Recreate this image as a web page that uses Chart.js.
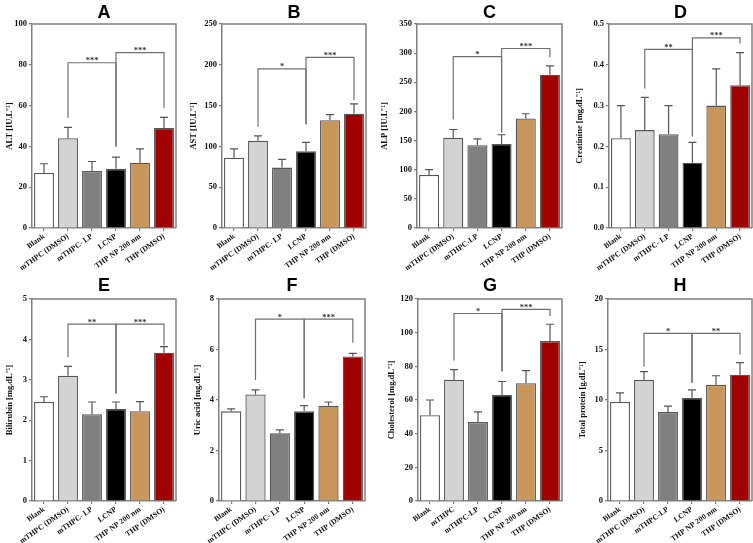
<!DOCTYPE html>
<html><head><meta charset="utf-8">
<script src="https://cdn.jsdelivr.net/npm/chart.js@4.4.0/dist/chart.umd.min.js"></script>
<style>
html,body{margin:0;padding:0;background:#fff;width:753px;height:543px;overflow:hidden;position:relative}
canvas{position:absolute}
</style></head><body>
<script>
// ---- categories ----
const labelsStd = ["Blank","mTHPC (DMSO)","mTHPC- LP","LCNP","THP NP 200 nm","THP (DMSO)"];
const labelsC   = ["Blank","mTHPC (DMSO)","mTHPC-LP","LCNP","THP NP 200 nm","THP (DMSO)"];
const labelsG   = ["Blank","mTHPC","mTHPC-LP","LCNP","THP NP 200 nm","THP (DMSO)"];
const labelsH   = ["Blank","mTHPC (DMSO)","mTHPC-LP","LCNP","THP NP 200 nm","THP (DMSO)"];

// ---- series values (mean, SD) ----
const altMean  = [27, 44, 28, 29, 32, 49];
const altSd    = [4.5, 5.3, 4.6, 5.7, 6.8, 5.2];
const astMean  = [86, 107, 74, 94, 132, 140];
const astSd    = [11, 6, 10, 11, 7, 12];
const alpMean  = [91, 155, 142, 144, 188, 263];
const alpSd    = [9, 14, 11, 16, 8, 15];
const creMean  = [0.22, 0.24, 0.23, 0.16, 0.30, 0.35];
const creSd    = [0.08, 0.08, 0.07, 0.05, 0.09, 0.08];
const bilMean  = [2.45, 3.10, 2.15, 2.28, 2.22, 3.67];
const bilSd    = [0.13, 0.23, 0.30, 0.17, 0.24, 0.15];
const uricMean = [3.55, 4.22, 2.68, 3.55, 3.77, 5.72];
const uricSd   = [0.10, 0.18, 0.14, 0.23, 0.15, 0.13];
const cholMean = [51, 72, 47, 63, 70, 95];
const cholSd   = [9, 6, 6, 8, 7.5, 10];
const tpMean   = [9.8, 12.0, 8.8, 10.2, 11.5, 12.5];
const tpSd     = [0.9, 0.8, 0.6, 0.8, 0.9, 1.2];

// ---- significance brackets: [fromIdx, toIdx, topValue, leftLegEnd, rightLegEnd, label] ----
const altBr  = [[1,3,81,54,40,"***"],[3,5,86,40,59,"***"]];
const astBr  = [[1,3,195,124,127,"*"],[3,5,209,127,157,"***"]];
const alpBr  = [[1,3,294,186,164,"*"],[3,5,308,164,293,"***"]];
const creBr  = [[1,3,0.438,0.342,0.225,"**"],[3,5,0.466,0.225,0.452,"***"]];
const bilBr  = [[1,3,4.38,3.56,2.66,"**"],[3,5,4.38,2.66,3.85,"***"]];
const uricBr = [[1,3,7.2,4.79,4.07,"*"],[3,5,7.2,4.07,6.27,"***"]];
const cholBr = [[1,3,111.4,83.4,77,"*"],[3,5,113.8,77,109.9,"***"]];
const tpBr   = [[1,3,16.6,13.3,11.7,"*"],[3,5,16.6,11.7,14.5,"**"]];

// ---- axis titles and ranges ----
const yTitles = ["ALT [IU.L\u207B\u00B9]","AST [IU.L\u207B\u00B9]","ALP [IU.L\u207B\u00B9]","Creatinine [mg.dL\u207B\u00B9]",
                 "Bilirubin [mg.dL\u207B\u00B9]","Uric acid [mg.dL\u207B\u00B9]","Cholesterol [mg.dL\u207B\u00B9]","Total protein [g.dL\u207B\u00B9]"];
const yMax   = [100, 250, 350, 0.5, 5, 8, 120, 20];
const yStep  = [20, 50, 50, 0.1, 1, 2, 20, 5];
const panelIds = ["A","B","C","D","E","F","G","H"];

const barColors = ['#ffffff','#d3d3d3','#808080','#000000','#c8965a','#a00000'];
const AXIS = '#808080';
const SERIF = "'Liberation Serif','Times New Roman',serif";
const SANS = "'Liberation Sans',Arial,sans-serif";

const panels = [
  {mean:altMean, sd:altSd, br:altBr, labels:labelsStd, row:0, labelX:10,  left:32,  right:176},
  {mean:astMean, sd:astSd, br:astBr, labels:labelsStd, row:0, labelX:194, left:222, right:366},
  {mean:alpMean, sd:alpSd, br:alpBr, labels:labelsC,   row:0, labelX:385, left:417, right:562},
  {mean:creMean, sd:creSd, br:creBr, labels:labelsStd, row:0, labelX:580, left:609, right:752},
  {mean:bilMean, sd:bilSd, br:bilBr, labels:labelsStd, row:1, labelX:10,  left:32,  right:176},
  {mean:uricMean,sd:uricSd,br:uricBr,labels:labelsStd, row:1, labelX:198, left:219, right:365},
  {mean:cholMean,sd:cholSd,br:cholBr,labels:labelsG,   row:1, labelX:392, left:418, right:562},
  {mean:tpMean,  sd:tpSd,  br:tpBr,  labels:labelsH,   row:1, labelX:583, left:608, right:752}
];

const EXTRA = 12; // extra room on the canvas left for rotated labels

panels.forEach((p, k) => {
  const rowTop = p.row === 0 ? 0 : 270;
  const canH = p.row === 0 ? 270 : 273;
  const cl = Math.round(p.labelX - 4.25) - EXTRA;
  const yW = p.left - cl;
  const cw = p.right + 3 - cl;
  const cv = document.createElement('canvas');
  cv.width = cw; cv.height = canH;
  cv.style.left = cl + 'px'; cv.style.top = rowTop + 'px';
  cv.style.width = cw + 'px'; cv.style.height = canH + 'px';
  document.body.appendChild(cv);

  const extras = {
    id: 'extras' + k,
    afterDatasetsDraw(chart) {
      const ctx = chart.ctx, a = chart.chartArea, ys = chart.scales.y, xs = chart.scales.x;
      ctx.save();
      ctx.strokeStyle = AXIS; ctx.lineWidth = 1.5;
      ctx.beginPath(); ctx.moveTo(a.left, a.top); ctx.lineTo(a.right, a.top); ctx.lineTo(a.right, a.bottom); ctx.stroke();
      ctx.strokeStyle = '#555'; ctx.lineWidth = 1.2;
      chart.getDatasetMeta(0).data.forEach((bar, i) => {
        const yt = ys.getPixelForValue(p.mean[i]);
        const ye = ys.getPixelForValue(p.mean[i] + p.sd[i]);
        ctx.beginPath();
        ctx.moveTo(bar.x, yt); ctx.lineTo(bar.x, ye);
        ctx.moveTo(bar.x - 4, ye); ctx.lineTo(bar.x + 4, ye);
        ctx.stroke();
      });
      ctx.strokeStyle = '#707070'; ctx.lineWidth = 1.2;
      ctx.fillStyle = '#333';
      ctx.font = "bold 8.5px " + SERIF;
      ctx.textAlign = 'center'; ctx.textBaseline = 'alphabetic';
      p.br.forEach(b => {
        const x1 = xs.getPixelForValue(b[0]), x2 = xs.getPixelForValue(b[1]);
        const yt = ys.getPixelForValue(b[2]);
        const y1 = ys.getPixelForValue(b[3]), y2 = ys.getPixelForValue(b[4]);
        ctx.beginPath();
        ctx.moveTo(x1, y1); ctx.lineTo(x1, yt); ctx.lineTo(x2, yt); ctx.lineTo(x2, y2);
        ctx.stroke();
        ctx.fillText(b[5], (x1 + x2) / 2, yt + 0.5);
      });
      ctx.restore();
    }
  };

  const tickFont = {family: SERIF, size: 8.5, weight: 'bold'};
  const xFont = {family: SERIF, size: 7.7, weight: 'bold'};
  new Chart(cv, {
    type: 'bar',
    data: {
      labels: p.labels,
      datasets: [{
        data: p.mean,
        backgroundColor: barColors,
        borderColor: '#555',
        borderWidth: 1.3,
        barPercentage: 0.83,
        categoryPercentage: 1
      }]
    },
    options: {
      responsive: false, animation: false, devicePixelRatio: 1,
      layout: {padding: {left: 0, right: 3, top: 0, bottom: 0}},
      plugins: {
        legend: {display: false},
        tooltip: {enabled: false},
        title: {
          display: true, text: panelIds[k], fullSize: false, color: '#000',
          font: {family: SANS, size: 18, weight: 'bold', lineHeight: 1},
          padding: p.row === 0 ? {top: 4, bottom: 2} : {top: 7, bottom: 4}
        }
      },
      scales: {
        x: {
          grid: {display: true, drawOnChartArea: false, offset: false, tickLength: 3, color: AXIS, lineWidth: 1.2},
          border: {display: true, color: AXIS, width: 1.5},
          ticks: {autoSkip: false, minRotation: 35, maxRotation: 35, padding: 1, font: xFont, color: '#111'},
          afterFit(s) { s.height = 42; }
        },
        y: {
          min: 0, max: yMax[k],
          grid: {display: true, drawOnChartArea: false, tickLength: 3, color: AXIS, lineWidth: 1.2},
          border: {display: true, color: AXIS, width: 1.5},
          ticks: {stepSize: yStep[k], padding: 2, font: tickFont, color: '#111',
                  callback: v => (yStep[k] < 1 ? Number(v).toFixed(1) : v)},
          title: {display: true, text: yTitles[k], color: '#111', padding: {top: EXTRA, bottom: 0},
                  font: {family: SERIF, size: 8.5, weight: 'bold', lineHeight: 1}},
          afterFit(s) { s.width = yW; }
        }
      }
    },
    plugins: [extras]
  });
});
</script>
</body></html>
